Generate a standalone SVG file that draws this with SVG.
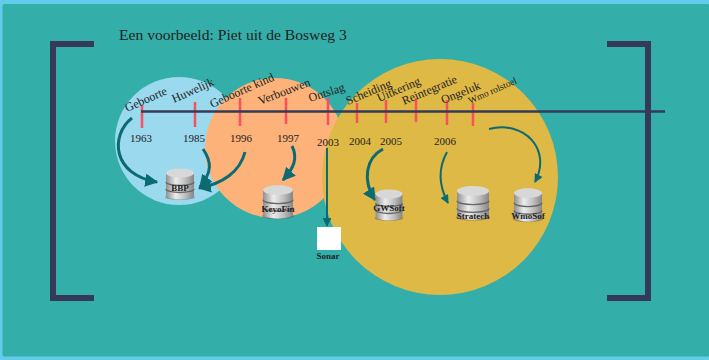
<svg xmlns="http://www.w3.org/2000/svg" width="709" height="360" viewBox="0 0 709 360">
<defs>
<linearGradient id="metal" x1="0" x2="1" y1="0" y2="0"><stop offset="0" stop-color="#8f8f8f"/><stop offset="0.35" stop-color="#ececec"/><stop offset="0.7" stop-color="#bdbdbd"/><stop offset="1" stop-color="#858585"/></linearGradient>
<marker id="ah" viewBox="0 0 10 10" refX="9" refY="5" markerWidth="4.4" markerHeight="4.4" orient="auto" markerUnits="strokeWidth"><path d="M0 0L10 5L0 10z" fill="#0c6a73"/></marker>
<g id="db">
<ellipse cx="0" cy="13" rx="15" ry="3" fill="#555" opacity=".45"/>
<path d="M-14-11V11A14 4.5 0 0 0 14 11V-11z" fill="url(#metal)"/>
<ellipse cx="0" cy="-11" rx="14" ry="4.5" fill="#d8d8d8"/>
<path d="M-14 -2A14 3.5 0 0 0 14 -2M-14 5A14 3.5 0 0 0 14 5" fill="none" stroke="#666" stroke-width="1.3"/>
</g>
</defs>
<style>
text{font-family:"Liberation Serif",serif;fill:#222}
.lab{font-size:12px}
.yr{font-size:11px;text-anchor:middle}
.tick{stroke:#f9505e;stroke-width:2.5;fill:none}
.arc{fill:none;stroke:#0c6a73;stroke-width:3;marker-end:url(#ah)}
.thin{stroke-width:2}
.db{font-size:9px;text-anchor:middle;font-weight:bold}
.br{fill:none;stroke:#343a58;stroke-width:6}
</style>
<rect width="709" height="360" fill="#62cdea"/>
<rect x="2.500" y="4" width="707" height="352.500" rx="2" fill="#33aea8"/>
<circle cx="179" cy="141" r="64" fill="#9ad9ee"/>
<circle cx="275" cy="148" r="70" fill="#fdb27a"/>
<circle cx="440" cy="177" r="118" fill="#dfb945"/>
<text x="119" y="40" font-size="15.600">Een voorbeeld: Piet uit de Bosweg 3</text>
<path class="br" d="M94 44H53V298H94"/>
<path class="br" d="M607 44H648V298H607"/>
<g id="timeline">
<path class="tick" d="M142 105V128M195 102V127M240 98V126M286 98V124M328 98V125M357 103V123M386 100V123M416 98V122M447 100V125M473 103V126"/>
<path d="M141 111.500H665" stroke="#343a58" stroke-width="2.500" fill="none"/>
</g>
<g id="labels">
<text class="lab" transform="translate(127 112) rotate(-24)">Geboorte</text>
<text class="lab" transform="translate(174 103) rotate(-24)">Huwelijk</text>
<text class="lab" transform="translate(212 108) rotate(-24)">Geboorte kind</text>
<text class="lab" transform="translate(260 105) rotate(-21)">Verbouwen</text>
<text class="lab" transform="translate(310 102) rotate(-18)">Ontslag</text>
<text class="lab" transform="translate(348 105) rotate(-23)">Scheiding</text>
<text class="lab" transform="translate(379 102) rotate(-23)">Uitkering</text>
<text class="lab" transform="translate(404 105) rotate(-23)">Reintegratie</text>
<text class="lab" transform="translate(443 104) rotate(-22)">Ongeluk</text>
<text class="lab" style="font-size:9.500px" transform="translate(470 104) rotate(-24)">Wmo rolstoel</text>
</g>
<g id="years">
<text class="yr" x="141" y="142">1963</text>
<text class="yr" x="194" y="142">1985</text>
<text class="yr" x="241" y="142">1996</text>
<text class="yr" x="288" y="142">1997</text>
<text class="yr" x="328" y="146">2003</text>
<text class="yr" x="360" y="145">2004</text>
<text class="yr" x="391" y="145">2005</text>
<text class="yr" x="445" y="145">2006</text>
</g>
<g id="connectors">
<path class="arc" d="M132 118C110 135 112 175 157 182"/>
<path class="arc" d="M203 149C212 162 212 172 200 187"/>
<path class="arc" d="M245 152C240 172 222 184 199 188"/>
<path class="arc" d="M292 146C298 158 294 168 283 180"/>
<path class="thin" d="M327 148V226" fill="none" stroke="#0c6a73" marker-end="url(#ah)"/>
<path class="arc" d="M383 149C366 158 362 180 375 200"/>
<path class="arc thin" d="M447 152C437 170 440 188 448 203"/>
<path class="arc thin" d="M489 129C525 120 552 150 535 182"/>
</g>
<g id="bbp"><use href="#db" transform="translate(180 184)"/><text class="db" x="180" y="191">BBP</text></g>
<g id="keyofin"><use href="#db" transform="translate(278 202) scale(1.07 1.08)"/><text class="db" x="278" y="212">KeyoFin</text></g>
<g id="sonar"><rect x="317" y="227" width="24" height="23" fill="#fff"/><text class="db" x="328" y="259">Sonar</text></g>
<g id="gwsoft"><use href="#db" transform="translate(389 205) scale(.96 1)"/><text class="db" x="389" y="211">GWSoft</text></g>
<g id="stratech"><use href="#db" transform="translate(473 203) scale(1.14 1.1)"/><text class="db" x="473" y="219">Stratech</text></g>
<g id="wmosoft"><use href="#db" transform="translate(528 205) scale(1 1.08)"/><text class="db" x="528" y="219">WmoSof</text></g>
</svg>
